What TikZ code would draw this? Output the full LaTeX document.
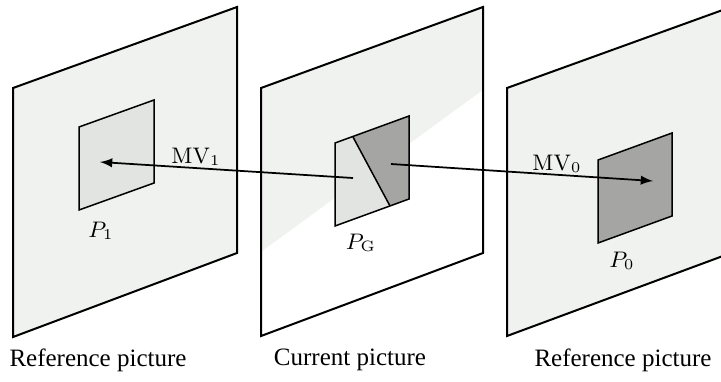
\documentclass[tikz,border=0pt]{standalone}
\usepackage{amsmath}
\usepackage[no-math]{fontspec}
\setmainfont{Liberation Serif}
\usepackage{tikz}
\usetikzlibrary{arrows}

\definecolor{framegray}{HTML}{F0F2EF}
\definecolor{lightblock}{HTML}{E2E4E1}
\definecolor{darkblock}{HTML}{A5A6A4}

\begin{document}
\begin{tikzpicture}[x=0.4pt, y=-0.4pt]
  \tikzstyle{every node} = [inner sep = 1pt]
\tikzset{FrameStyle/.style={draw, line width=0.8pt}}
\tikzset{BlockStyle/.style={draw, line width=0.6pt}}
\tikzset{MVStyle/.style={-latex, line width=0.7pt}}
\tikzset{LabelStyle/.style={font=\small}}
\useasboundingbox (0,0) rectangle (721,381);
\clip (0,0) rectangle (721,381);

% reference picture 1
\draw[FrameStyle, fill=framegray] (13,88) -- (237,7) -- (237,253) -- (13,337) -- cycle;
\draw[BlockStyle, fill=lightblock] (79,127) -- (154,100) -- (154,183) -- (79,210) -- cycle;

% current picture
\fill[framegray] (261,88) -- (483,7) -- (483,253) -- (261,336) -- cycle;
\fill[white] (261,252) -- (483,90) -- (483,253) -- (261,336) -- cycle;
\draw[FrameStyle] (261,88) -- (483,7) -- (483,253) -- (261,336) -- cycle;
\fill[lightblock] (335,143) -- (353,137) -- (390,206) -- (335,226) -- cycle;
\fill[darkblock] (353,137) -- (409,116) -- (409,199) -- (390,206) -- cycle;
\draw[BlockStyle] (335,143) -- (409,116) -- (409,199) -- (335,226) -- cycle;
\draw[BlockStyle] (353,137) -- (390,206);

% reference picture 0
\draw[FrameStyle, fill=framegray] (507,88) -- (731,7) -- (731,253) -- (507,336) -- cycle;
\draw[BlockStyle, fill=darkblock] (598,160) -- (672,133) -- (672,216) -- (598,243) -- cycle;

% motion vectors
\coordinate (G1) at (353,178);
\coordinate (G0) at (391,164);
\coordinate (R1) at (100,162);
\coordinate (R0) at (653,181);
\draw[MVStyle] (G1) -- (R1);
\draw[MVStyle] (G0) -- (R0);

\node[LabelStyle] (MV1) at (196,157) {$\mathrm{MV}_1$};
\node[LabelStyle] (MV0) at (557,164) {$\mathrm{MV}_0$};
\node[LabelStyle] (P1) at (101,231) {$P_1$};
\node[LabelStyle] (PG) at (361,243) {$P_{\mathrm{G}}$};
\node[LabelStyle] (P0) at (622,261) {$P_0$};

\node (C1) at (98,360) {Reference picture};
\node (CG) at (350,360) {Current picture};
\node (C0) at (623,360) {Reference picture};

\end{tikzpicture}
\end{document}
